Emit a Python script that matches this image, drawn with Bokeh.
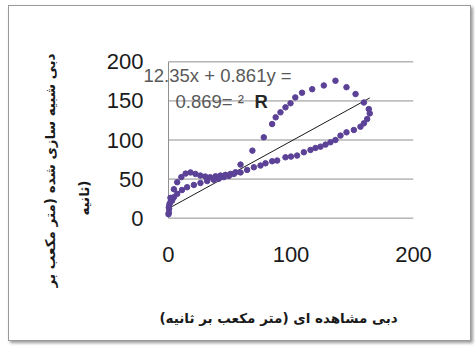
from bokeh.plotting import figure
from bokeh.models import Range1d, FixedTicker, Label, Title
from bokeh.embed import file_html
from bokeh.resources import INLINE

# observed discharge (x) and simulated discharge (y), m3/s
obs_x = [0.3, 0.5, 0.8, 1.6, 4.4, 7.1, 10.5, 14.0, 18.0, 22.0, 26.0, 30.0, 34.0,
         38.4, 42.4, 46.5, 50.6, 54.7, 58.8, 68.5, 77.8, 84.6, 87.5, 91.4, 95.5,
         99.6, 103.5, 109.0, 117.3, 126.8, 136.3, 145.3, 152.7, 159.5, 163.5,
         164.3, 162.2, 159.5, 156.7, 151.3, 145.3, 140.4, 136.3, 132.2, 128.2,
         124.1, 120.0, 115.9, 110.5, 105.0, 100.0, 95.5, 88.7, 84.6, 79.2, 75.1,
         69.7, 64.2, 58.8, 53.3, 49.3, 45.2, 41.1, 37.0, 31.6, 26.1, 20.7, 15.2,
         11.0, 7.1, 4.4, 3.0, 1.6, 0.3, 0.0]
sim_y = [7.0, 12.0, 18.0, 26.0, 37.0, 46.0, 52.5, 57.0, 58.5, 56.6, 54.5, 53.2,
         52.3, 53.6, 54.5, 55.4, 56.6, 58.7, 68.5, 86.4, 103.4, 120.4, 129.0,
         135.4, 141.8, 147.0, 154.5, 160.5, 165.0, 169.8, 175.8, 167.6, 158.8,
         148.0, 139.6, 134.0, 126.8, 121.3, 117.0, 112.8, 109.8, 105.6, 100.0,
         97.1, 94.1, 91.5, 89.8, 87.3, 84.3, 80.1, 78.8, 77.9, 73.7, 72.8, 70.2,
         67.3, 65.1, 61.7, 58.5, 56.5, 54.0, 52.5, 50.5, 49.0, 47.5, 45.0, 42.5,
         39.6, 36.0, 31.1, 26.8, 22.6, 20.4, 14.0, 5.0]

slope = 0.861
intercept = 12.35
r2 = 0.869

x_ticks = [0, 100, 200]
y_ticks = [0, 50, 100, 150, 200]

x_title = "دبی مشاهده ای (متر مکعب بر ثانیه)"
y_title_1 = "دبی شبیه سازی شده (متر مکعب بر"
y_title_2 = "ثانیه)"
eq_line_1 = "12.35x + 0.861y ="
eq_line_2a = "0.869= ²"
eq_line_2b = "R"

GRID = "#8f8f8f"
DOT = "#5b4297"

p = figure(width=463, height=336, output_backend="svg", toolbar_location=None,
           x_range=Range1d(-20.4, x_ticks[-1]), y_range=Range1d(-3.0, 203.0),
           min_border_left=134, min_border_right=59, min_border_top=53,
           min_border_bottom=122)
p.styles = {"margin-left": "8px", "margin-top": "5px",
            "border": "1px solid #9a9a9a", "box-shadow": "2px 2px 3px #9a9a9a"}
p.outline_line_color = None
p.background_fill_color = "white"
p.border_fill_color = "white"
p.grid.visible = False

for ax in (p.xaxis[0], p.yaxis[0]):
    ax.major_tick_line_color = None
    ax.minor_tick_line_color = None
    ax.major_tick_out = 0
    ax.major_tick_in = 0
    ax.axis_line_color = None
    ax.major_label_text_font = "Liberation Sans"
    ax.major_label_text_font_size = "22px"
    ax.major_label_text_color = "#1a1a1a"
p.xaxis.ticker = FixedTicker(ticks=x_ticks)
p.yaxis.ticker = FixedTicker(ticks=y_ticks)
p.xaxis.major_label_standoff = 26
p.yaxis.major_label_standoff = 0

# x-axis title
p.xaxis.axis_label = x_title
p.xaxis.axis_label_text_font = "DejaVu Sans"
p.xaxis.axis_label_text_font_style = "bold"
p.xaxis.axis_label_text_font_size = "13.5px"
p.xaxis.axis_label_text_color = "#1a1a1a"
p.xaxis.axis_label_standoff = 45

# plot-area gridlines and left border (0..200 only)
for t in y_ticks:
    p.line([x_ticks[0], x_ticks[-1]], [t, t], line_color=GRID, line_width=1)
p.line([x_ticks[0], x_ticks[0]], [y_ticks[0], y_ticks[-1]],
       line_color=GRID, line_width=1)

# trend line
x0, x1 = min(obs_x), max(obs_x)
p.line([x0, x1], [slope * x0 + intercept, slope * x1 + intercept],
       line_color="#1a1a1a", line_width=1)

p.scatter(obs_x, sim_y, size=5.5, marker="circle", fill_color=DOT, line_color=DOT)

def lab(text, x, y, size, color, bold=False, font="Liberation Sans"):
    p.add_layout(Label(x=x, y=y, x_units="screen", y_units="screen", text=text,
                       text_font=font, text_font_size=size,
                       text_color=color, text_align="left",
                       text_baseline="middle",
                       text_font_style="bold" if bold else "normal"))

lab(eq_line_1, 0, 145, "18.5px", "#595959")
lab(eq_line_2a, 32, 119.3, "18.5px", "#595959")
lab(eq_line_2b, 111, 119.3, "18.5px", "#262626", bold=True)

# y-axis title, two lines, stacked outward from the axis
t2 = Title(text=y_title_2, align="right", offset=121, text_font="DejaVu Sans",
           text_font_size="13.5px", text_font_style="bold", text_color="#1a1a1a",
           standoff=20, vertical_align="top")
t1 = Title(text=y_title_1, align="right", offset=-6, text_font="DejaVu Sans",
           text_font_size="13.5px", text_font_style="bold", text_color="#1a1a1a",
           standoff=12, vertical_align="top")
p.add_layout(t2, "left")
p.add_layout(t1, "left")

open("out.html", "w").write(file_html(p, INLINE))
